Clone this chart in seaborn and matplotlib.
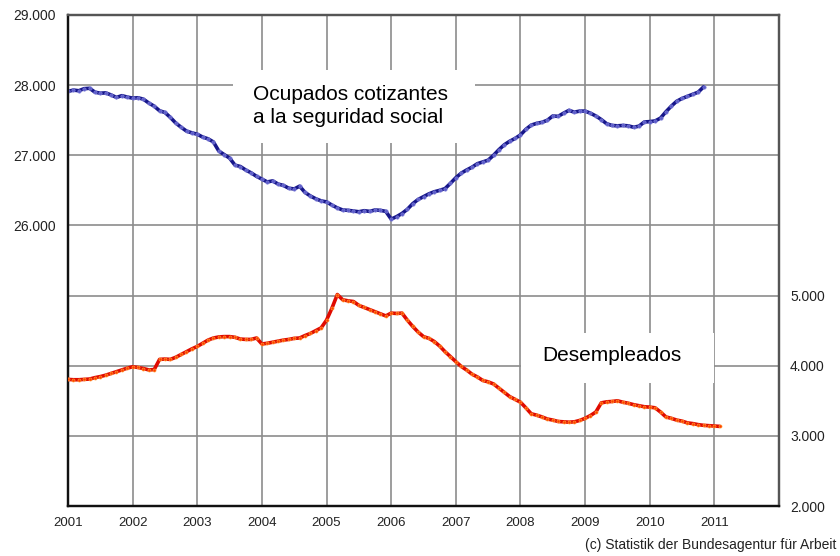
import numpy as np
import pandas as pd
import matplotlib
matplotlib.use("Agg")
import matplotlib.pyplot as plt
import seaborn as sns
from matplotlib.patches import Rectangle

# --- Data (thousands), monthly from Jan 2001 ---
ocupados_2001 = [27910, 27930, 27920, 27950, 27955, 27900, 27885, 27890, 27860, 27825, 27850, 27830]
ocupados_2002 = [27815, 27820, 27800, 27745, 27700, 27635, 27610, 27540, 27460, 27400, 27345, 27320]
ocupados_2003 = [27300, 27260, 27235, 27190, 27060, 27010, 26960, 26860, 26840, 26790, 26750, 26700]
ocupados_2004 = [26660, 26620, 26635, 26590, 26570, 26530, 26520, 26560, 26470, 26420, 26380, 26350]
ocupados_2005 = [26335, 26290, 26250, 26220, 26215, 26205, 26195, 26210, 26200, 26220, 26215, 26200]
ocupados_2006 = [26090, 26125, 26170, 26230, 26310, 26370, 26410, 26450, 26480, 26500, 26525, 26600]
ocupados_2007 = [26680, 26745, 26790, 26830, 26880, 26905, 26930, 27000, 27080, 27150, 27200, 27240]
ocupados_2008 = [27290, 27370, 27430, 27455, 27470, 27500, 27560, 27555, 27600, 27640, 27615, 27630]
ocupados_2009 = [27630, 27600, 27560, 27510, 27450, 27425, 27420, 27425, 27420, 27400, 27415, 27475]
ocupados_2010 = [27480, 27490, 27530, 27620, 27700, 27770, 27810, 27840, 27870, 27900, 27975]

desempleados_2001 = [3805, 3800, 3800, 3805, 3810, 3830, 3845, 3865, 3890, 3915, 3940, 3965]
desempleados_2002 = [3985, 3975, 3960, 3940, 3945, 4090, 4095, 4090, 4120, 4160, 4200, 4240]
desempleados_2003 = [4275, 4320, 4365, 4395, 4410, 4415, 4415, 4405, 4380, 4375, 4375, 4395]
desempleados_2004 = [4310, 4320, 4335, 4350, 4365, 4375, 4390, 4395, 4430, 4460, 4500, 4540]
desempleados_2005 = [4650, 4820, 5015, 4940, 4925, 4915, 4860, 4830, 4800, 4770, 4740, 4710]
desempleados_2006 = [4750, 4745, 4750, 4650, 4560, 4480, 4415, 4390, 4345, 4280, 4200, 4130]
desempleados_2007 = [4058, 3990, 3939, 3880, 3840, 3790, 3770, 3740, 3680, 3620, 3560, 3520]
desempleados_2008 = [3480, 3400, 3315, 3295, 3270, 3240, 3225, 3205, 3200, 3195, 3200, 3220]
desempleados_2009 = [3250, 3290, 3340, 3470, 3485, 3490, 3500, 3480, 3465, 3445, 3430, 3415]
desempleados_2010 = [3410, 3400, 3340, 3270, 3250, 3225, 3210, 3185, 3175, 3160, 3150, 3145]
desempleados_2011 = [3140, 3135]

years = list(range(2001, 2012))
left_ticks = [22000, 23000, 24000, 25000, 26000, 27000, 28000, 29000]
left_labels = ["", "", "", "", "26.000", "27.000", "28.000", "29.000"]
right_ticks = [2000, 3000, 4000, 5000]
right_labels = ["2.000", "3.000", "4.000", "5.000"]

ocupados = sum([ocupados_2001, ocupados_2002, ocupados_2003, ocupados_2004, ocupados_2005,
                ocupados_2006, ocupados_2007, ocupados_2008, ocupados_2009, ocupados_2010], [])
desempleados = sum([desempleados_2001, desempleados_2002, desempleados_2003, desempleados_2004,
                    desempleados_2005, desempleados_2006, desempleados_2007, desempleados_2008,
                    desempleados_2009, desempleados_2010, desempleados_2011], [])

df_o = pd.DataFrame({"t": 2001 + np.arange(len(ocupados)) / 12.0, "v": ocupados})
df_d = pd.DataFrame({"t": 2001 + np.arange(len(desempleados)) / 12.0, "v": desempleados})

sns.set_theme(style="white")
plt.rcParams["font.family"] = ["Liberation Sans", "DejaVu Sans"]

fig = plt.figure(figsize=(8.4, 5.56), dpi=100)
ax = fig.add_axes([68/840, 1 - 506/556, (779-68)/840, (506-15)/556])
ax2 = ax.twinx()

sns.lineplot(data=df_o, x="t", y="v", ax=ax, color="#16168a", lw=2.6, marker="o",
             markersize=2.4, markerfacecolor="#5c5cc8", markeredgecolor="#7a7ad8",
             markeredgewidth=0.5, zorder=4)
sns.lineplot(data=df_d, x="t", y="v", ax=ax2, color="#e00a00", lw=2.6, marker="o",
             markersize=2.2, markerfacecolor="#ff3a00", markeredgecolor="#ff9a30",
             markeredgewidth=0.5, zorder=4)

ax.set_xlim(2001, 2012)
ax.set_ylim(22000, 29000)
ax2.set_ylim(2000, 9000)

ax.set_xticks(years)
ax.set_xticklabels([str(y) for y in years], fontsize=9.5, color="#222222")
ax.set_yticks(left_ticks)
ax.set_yticklabels(left_labels, fontsize=10, color="#222222")
ax2.set_yticks(right_ticks)
ax2.set_yticklabels(right_labels, fontsize=10, color="#222222")
ax.set_xlabel("")
ax.set_ylabel("")
ax2.set_ylabel("")

ax.tick_params(axis="both", length=0)
ax.tick_params(axis="y", pad=9)
ax.tick_params(axis="x", pad=8)
ax2.tick_params(axis="y", length=0, pad=8)

ax.grid(True, color="#8c8c8c", lw=1.2)
ax.set_axisbelow(True)
ax2.grid(False)

for a in (ax, ax2):
    a.spines["left"].set_color("#111111")
    a.spines["bottom"].set_color("#111111")
    a.spines["top"].set_color("#555555")
    a.spines["right"].set_color("#555555")
    for s in a.spines.values():
        s.set_linewidth(1.6)
        s.set_visible(True)

# white label boxes over the grid
ax.add_patch(Rectangle((2003.553, 27175), 2007.296 - 2003.553, 28216 - 27175,
                       facecolor="white", edgecolor="none", zorder=2))
ax.add_patch(Rectangle((2008.008, 23754), 2011.0 - 2008.008, 24467 - 23754,
                       facecolor="white", edgecolor="none", zorder=2))

ax.text(2003.86, 27700, "Ocupados cotizantes\na la seguridad social", fontsize=15,
        ha="left", va="center", linespacing=1.3, color="black", zorder=5)
ax.text(2008.335, 24150, "Desempleados", fontsize=15, ha="left", va="center",
        color="black", zorder=5)

fig.text(836/840, 1 - 545/556, "(c) Statistik der Bundesagentur für Arbeit", fontsize=10,
         ha="right", va="center", color="#222222")

fig.savefig("out.png", dpi=100, facecolor="white")
